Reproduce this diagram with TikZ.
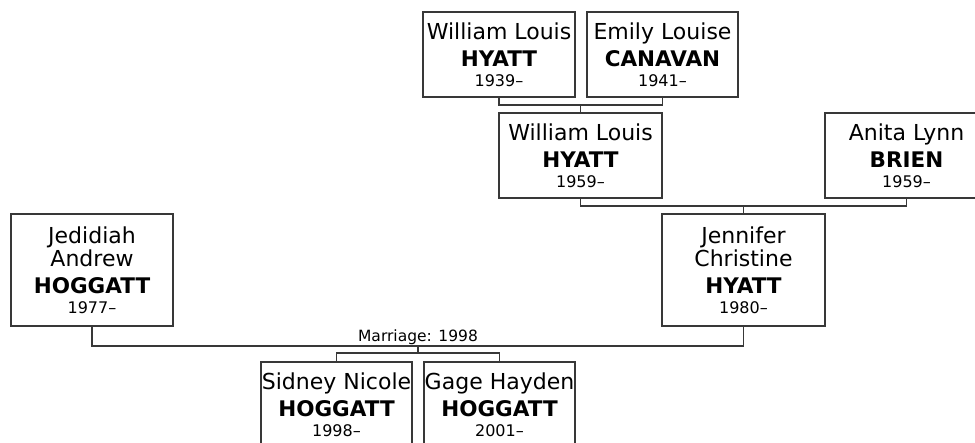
\documentclass[tikz,border=0pt]{standalone}
\usepackage{fontspec}
\setmainfont{DejaVu Sans}
\begin{document}
\begin{tikzpicture}[x=1pt,y=-1pt,
  line/.style={draw=black!78,line width=1.3pt},
  person/.style={line,fill=white,rectangle,inner sep=0pt,align=center,
    font=\fontsize{22}{23}\selectfont,minimum height=85pt},
  tall/.style={minimum height=112pt},
  lbl/.style={font=\fontsize{15.5}{17}\selectfont,anchor=base,inner sep=0pt}]
\useasboundingbox (0,0) rectangle (975,443);
\clip (0,0) rectangle (975,443);
\newcommand{\yr}[1]{{\fontsize{16}{17}\selectfont #1}}
\newcommand{\sur}[1]{{\fontsize{21.5}{23}\selectfont\bfseries #1}}
% grandparents
\node[person,minimum width=152pt] (wl39) at (499,54.5)
  {William Louis\\[4pt]\sur{HYATT}\\[-3pt]\yr{1939–}};
\node[person,minimum width=151pt] (ec) at (662.5,54.5)
  {Emily Louise\\[4pt]\sur{CANAVAN}\\[-3pt]\yr{1941–}};
% parents of Jennifer
\node[person,minimum width=163pt] (wl59) at (580.5,155.5)
  {William Louis\\[4pt]\sur{HYATT}\\[-3pt]\yr{1959–}};
\node[person,minimum width=163pt] (ab) at (906.5,155.5)
  {Anita Lynn\\[4pt]\sur{BRIEN}\\[-3pt]\yr{1959–}};
% couple
\node[person,tall,minimum width=162pt] (jah) at (92,270)
  {Jedidiah\\Andrew\\[4pt]\sur{HOGGATT}\\[-3pt]\yr{1977–}};
\node[person,tall,minimum width=163pt] (jh) at (743.5,270)
  {Jennifer\\Christine\\[4pt]\sur{HYATT}\\[-3pt]\yr{1980–}};
% children
\node[person,minimum width=151pt] (sn) at (336.5,404.5)
  {Sidney Nicole\\[4pt]\sur{HOGGATT}\\[-3pt]\yr{1998–}};
\node[person,minimum width=151pt] (gh) at (499.5,404.5)
  {Gage Hayden\\[4pt]\sur{HOGGATT}\\[-3pt]\yr{2001–}};
% connectors
\coordinate (m1) at (580.5,105);
\coordinate (m2) at (743.5,206);
\coordinate (m3) at (418,346);
\coordinate (m4) at (418,353);
\draw[line] (wl39.south) |- (m1) -| (ec.south);
\draw[line] (m1) -- (wl59.north);
\draw[line] (wl59.south) |- (m2) -| (ab.south);
\draw[line] (m2) -- (jh.north);
\draw[line] (jah.south) |- (m3) -| (jh.south);
\node[lbl] (mar) at (418,342) {Marriage: 1998};
\draw[line] (m3) -- (m4);
\draw[line] (sn.north) |- (m4) -| (gh.north);
\end{tikzpicture}
\end{document}
